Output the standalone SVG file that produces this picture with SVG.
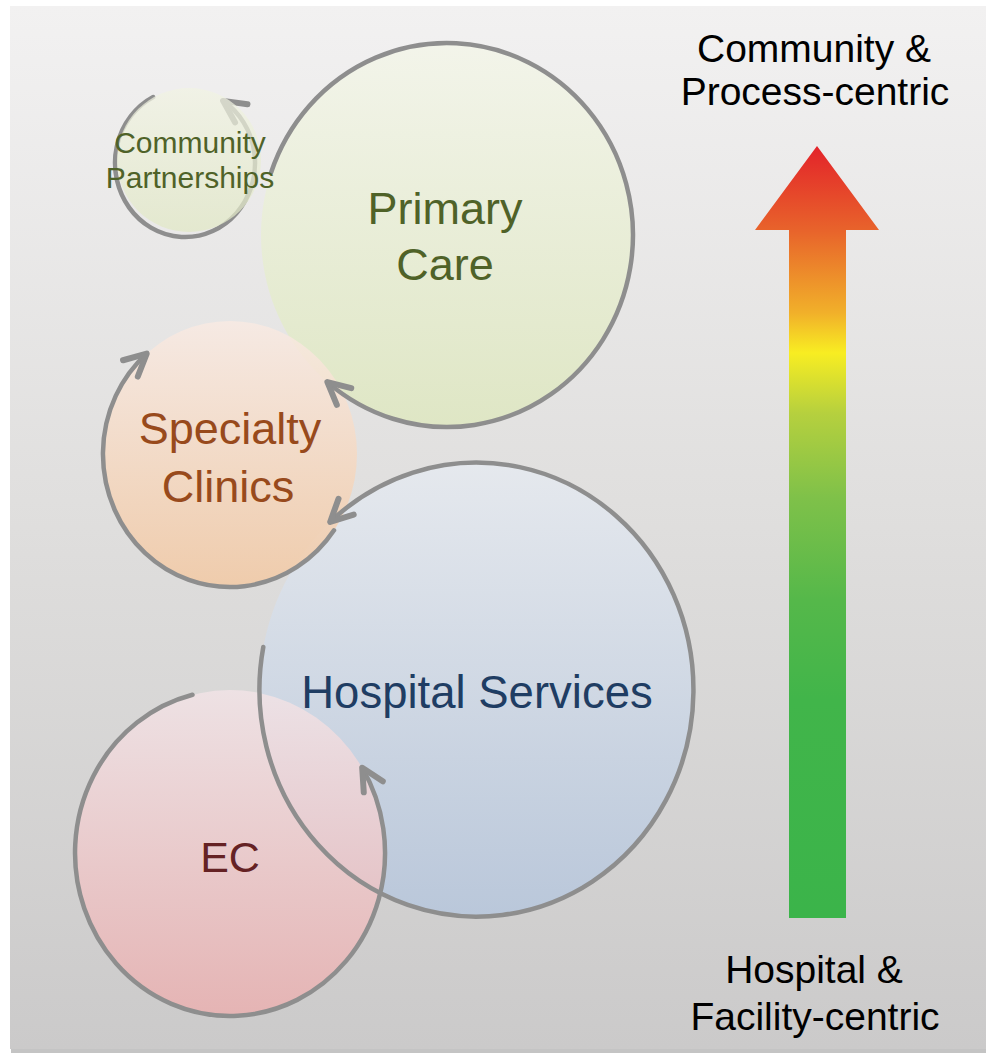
<svg xmlns="http://www.w3.org/2000/svg" width="986" height="1055" viewBox="0 0 986 1055">
  <style>
    .loop { fill: none; stroke: #8e8e8e; stroke-width: 4.5; stroke-linecap: round; marker-end: url(#chev); }
    .blob { fill-opacity: 0.86; }
    .lbl { font-family: "Liberation Sans", Arial, Helvetica, sans-serif; text-anchor: middle; }
    .axis { font-size: 39px; fill: #000; }
  </style>
  <defs>
    <linearGradient id="bg" x1="0" y1="0" x2="0" y2="1">
      <stop offset="0" stop-color="#f2f1f1"/>
      <stop offset="0.5" stop-color="#dfdedd"/>
      <stop offset="1" stop-color="#cbcaca"/>
    </linearGradient>
    <linearGradient id="gCP" x1="0" y1="0" x2="0" y2="1">
      <stop offset="0" stop-color="#f1f3e3"/>
      <stop offset="1" stop-color="#e1e8c5"/>
    </linearGradient>
    <linearGradient id="gPC" x1="0" y1="0" x2="0" y2="1">
      <stop offset="0" stop-color="#f3f5e9"/>
      <stop offset="1" stop-color="#dee7c0"/>
    </linearGradient>
    <linearGradient id="gSC" x1="0" y1="0" x2="0" y2="1">
      <stop offset="0" stop-color="#f8eae3"/>
      <stop offset="1" stop-color="#f2c9a4"/>
    </linearGradient>
    <linearGradient id="gHS" x1="0" y1="0" x2="0" y2="1">
      <stop offset="0" stop-color="#e6eaf0"/>
      <stop offset="1" stop-color="#b6c6dc"/>
    </linearGradient>
    <linearGradient id="gEC" x1="0" y1="0" x2="0" y2="1">
      <stop offset="0" stop-color="#f1e3e6"/>
      <stop offset="1" stop-color="#e9b0b0"/>
    </linearGradient>
    <linearGradient id="gArrow" gradientUnits="userSpaceOnUse" x1="0" y1="146" x2="0" y2="918">
      <stop offset="0" stop-color="#e3232a"/>
      <stop offset="0.109" stop-color="#e8632b"/>
      <stop offset="0.216" stop-color="#f1b02a"/>
      <stop offset="0.268" stop-color="#f8ed22"/>
      <stop offset="0.346" stop-color="#b6d03e"/>
      <stop offset="0.455" stop-color="#7fc149"/>
      <stop offset="0.588" stop-color="#55b84a"/>
      <stop offset="0.718" stop-color="#41b54a"/>
      <stop offset="1" stop-color="#3bb44a"/>
    </linearGradient>
    <marker id="chev" markerUnits="userSpaceOnUse" markerWidth="40" markerHeight="40" viewBox="-30 -20 40 40" refX="0" refY="0" orient="auto" overflow="visible">
      <path d="M-22,-11 L0,0 L-22,11" fill="none" stroke="#8e8e8e" stroke-width="6" stroke-linecap="round" stroke-linejoin="round"/>
    </marker>
  </defs>

  <!-- slide backdrop with a soft drop shadow -->
  <rect x="11" y="8" width="976" height="1045" fill="#c4c4c4"/>
  <rect x="10" y="6" width="976" height="1043" fill="url(#bg)"/>

  <!-- circle bodies -->
  <g id="hospital-services">
    <ellipse class="blob" cx="476.5" cy="689.5" rx="217" ry="227" fill="url(#gHS)"/>
  </g>
  <g id="ec">
    <ellipse class="blob" cx="230" cy="853" rx="155" ry="163" fill="url(#gEC)"/>
  </g>
  <g id="primary-care">
    <ellipse class="blob" cx="447" cy="235" rx="186" ry="192" fill="url(#gPC)"/>
  </g>
  <g id="specialty-clinics">
    <ellipse class="blob" cx="230" cy="454" rx="127" ry="133" fill="url(#gSC)"/>
  </g>

  <!-- circular flow connectors -->
  <g id="connectors">
    <path class="loop" d="M153.2,97.1 A70,74 0 1 0 223.1,100.9"/>
    <path class="loop" d="M271.1,172.5 A186,192 0 1 1 327.4,382.1"/>
    <path class="loop" d="M334,530.3 A127,133 0 1 1 146.7,353.6"/>
    <path class="loop" d="M263.3,647 A217,227 0 1 0 330.2,521.9"/>
    <path class="loop" d="M192.5,694.8 A155,163 0 1 0 362.2,767.8"/>
  </g>

  <g id="community-partnerships">
    <circle cx="189" cy="160" r="72" fill="url(#gCP)" fill-opacity="0.72"/>
    <text class="lbl" x="190" y="153" font-size="30" fill="#4f6228">Community</text>
    <text class="lbl" x="190" y="188" font-size="30" fill="#4f6228">Partnerships</text>
  </g>

  <!-- circle labels -->
  <g id="labels">
    <text class="lbl" x="445" y="224" font-size="45" fill="#4f6228">Primary</text>
    <text class="lbl" x="445" y="280" font-size="45" fill="#4f6228">Care</text>
    <text class="lbl" x="230" y="444" font-size="45" fill="#984a1c">Specialty</text>
    <text class="lbl" x="228" y="502" font-size="45" fill="#984a1c">Clinics</text>
    <text class="lbl" x="477" y="708" font-size="45.5" fill="#1f3d63">Hospital Services</text>
    <text class="lbl" x="230" y="872" font-size="43" fill="#652224">EC</text>
  </g>

  <!-- orientation scale -->
  <g id="scale-arrow">
    <polygon points="817,146 879,230 846,230 846,918 789,918 789,230 755,230" fill="url(#gArrow)"/>
  </g>
  <g id="scale-top">
    <text class="lbl axis" x="814" y="62">Community &amp;</text>
    <text class="lbl axis" x="815" y="105">Process-centric</text>
  </g>
  <g id="scale-bottom">
    <text class="lbl axis" x="814" y="983">Hospital &amp;</text>
    <text class="lbl axis" x="815" y="1030">Facility-centric</text>
  </g>
</svg>
